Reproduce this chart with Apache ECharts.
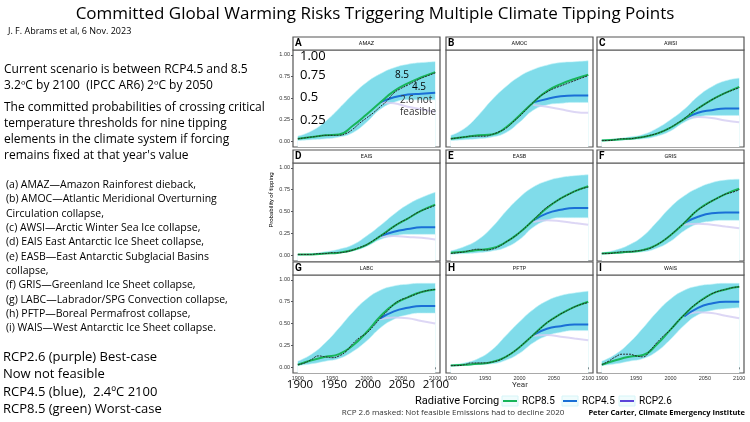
<!DOCTYPE html>
<html><head><meta charset="utf-8">
<script src="https://cdn.jsdelivr.net/npm/echarts@6/dist/echarts.min.js"></script>
<style>html,body{margin:0;padding:0;background:#fff}#c{width:750px;height:422px}</style>
</head><body><div id="c"></div>
<script>
const panelNames = ['AMAZ','AMOC','AWSI','EAIS','EASB','GRIS','LABC','PFTP','WAIS'];
const panelLetters = ['A','B','C','D','E','F','G','H','I'];
const years20 = [1900,1920,1940,1960,1980,2000,2020,2040,2060,2080,2100];
const yearsFut = [2020,2040,2060,2080,2100];
const yearsObs = [1900,1910,1920,1930,1940,1950,1960,1970,1980,1990,2000,2010,2020,2030,2040,2050,2060,2070,2080,2090,2100];
const yTicks = [0,0.25,0.5,0.75,1];
const xTicks = [1900,1950,2000,2050,2100];
const bigYearLabels = ['1900','1950','2000','2050','2100'];

const green = [
 [0.03,0.05,0.07,0.08,0.18,0.31,0.45,0.58,0.67,0.74,0.80],
 [0.03,0.05,0.07,0.08,0.16,0.30,0.45,0.58,0.66,0.72,0.77],
 [0.01,0.02,0.03,0.05,0.09,0.16,0.26,0.38,0.48,0.56,0.63],
 [0.01,0.01,0.02,0.03,0.06,0.12,0.22,0.33,0.42,0.51,0.58],
 [0.03,0.04,0.06,0.08,0.15,0.26,0.40,0.54,0.65,0.73,0.79],
 [0.02,0.03,0.04,0.06,0.12,0.23,0.37,0.52,0.62,0.70,0.76],
 [0.03,0.08,0.12,0.15,0.25,0.40,0.58,0.72,0.80,0.86,0.89],
 [0.02,0.03,0.04,0.06,0.12,0.23,0.37,0.51,0.61,0.69,0.75],
 [0.03,0.08,0.12,0.14,0.26,0.43,0.60,0.74,0.84,0.89,0.92]];
const blue = [
 [0.45,0.51,0.54,0.55,0.56],[0.45,0.49,0.52,0.53,0.53],[0.26,0.33,0.36,0.38,0.38],
 [0.22,0.27,0.30,0.32,0.32],[0.40,0.48,0.52,0.54,0.54],[0.37,0.44,0.48,0.49,0.49],
 [0.56,0.64,0.68,0.70,0.70],[0.37,0.44,0.47,0.49,0.49],[0.58,0.68,0.73,0.75,0.75]];
const purple = [
 [0.45,0.44,0.40,0.37,0.34],[0.42,0.40,0.37,0.34,0.33],[0.26,0.28,0.27,0.24,0.22],
 [0.21,0.22,0.21,0.20,0.18],[0.38,0.40,0.39,0.37,0.35],[0.35,0.36,0.35,0.33,0.31],
 [0.55,0.57,0.56,0.53,0.50],[0.36,0.37,0.35,0.33,0.31],[0.58,0.63,0.62,0.59,0.56]];
const bandHi = [
 [0.06,0.12,0.23,0.38,0.54,0.68,0.78,0.85,0.89,0.91,0.92],
 [0.07,0.15,0.30,0.48,0.63,0.75,0.83,0.88,0.91,0.92,0.93],
 [0.02,0.03,0.05,0.08,0.15,0.25,0.37,0.52,0.63,0.70,0.73],
 [0.01,0.02,0.04,0.07,0.12,0.22,0.34,0.47,0.58,0.66,0.72],
 [0.05,0.10,0.18,0.32,0.50,0.66,0.78,0.85,0.89,0.91,0.92],
 [0.03,0.06,0.12,0.22,0.38,0.55,0.68,0.77,0.83,0.86,0.87],
 [0.07,0.15,0.28,0.45,0.63,0.78,0.88,0.93,0.95,0.96,0.96],
 [0.03,0.05,0.10,0.20,0.36,0.52,0.66,0.76,0.82,0.85,0.87],
 [0.07,0.15,0.28,0.45,0.63,0.78,0.88,0.93,0.95,0.96,0.96]];
const bandLo = [
 [0.01,0.02,0.03,0.05,0.10,0.22,0.37,0.45,0.48,0.48,0.48],
 [0.01,0.02,0.03,0.05,0.10,0.22,0.36,0.42,0.44,0.45,0.45],
 [0.00,0.01,0.02,0.03,0.06,0.12,0.22,0.28,0.30,0.30,0.30],
 [0.00,0.01,0.02,0.03,0.05,0.10,0.18,0.22,0.24,0.24,0.24],
 [0.01,0.02,0.03,0.05,0.09,0.18,0.32,0.40,0.43,0.43,0.43],
 [0.01,0.02,0.03,0.04,0.08,0.16,0.28,0.36,0.39,0.40,0.40],
 [0.02,0.04,0.07,0.10,0.18,0.30,0.45,0.55,0.60,0.62,0.62],
 [0.01,0.02,0.03,0.04,0.08,0.16,0.28,0.36,0.40,0.42,0.42],
 [0.02,0.04,0.07,0.10,0.18,0.32,0.48,0.60,0.65,0.67,0.68]];
const black = [
 [0.03,0.04,0.05,0.06,0.07,0.07,0.07,0.09,0.14,0.21,0.27,0.33,0.40,0.47,0.56,0.61,0.65,0.69,0.73,0.76,0.79],
 [0.03,0.04,0.05,0.06,0.06,0.06,0.08,0.11,0.15,0.22,0.29,0.37,0.45,0.52,0.57,0.61,0.64,0.67,0.70,0.73,0.76],
 [0.01,0.01,0.02,0.03,0.03,0.04,0.05,0.07,0.09,0.12,0.16,0.21,0.26,0.33,0.38,0.43,0.48,0.52,0.56,0.59,0.62],
 [0.01,0.01,0.01,0.02,0.02,0.03,0.03,0.04,0.06,0.09,0.12,0.17,0.22,0.27,0.33,0.38,0.42,0.47,0.51,0.54,0.57],
 [0.02,0.03,0.04,0.06,0.07,0.06,0.07,0.10,0.15,0.20,0.26,0.33,0.40,0.48,0.55,0.60,0.65,0.69,0.73,0.76,0.78],
 [0.02,0.02,0.03,0.04,0.04,0.05,0.06,0.08,0.12,0.17,0.23,0.30,0.37,0.45,0.52,0.57,0.62,0.66,0.70,0.72,0.75],
 [0.03,0.05,0.09,0.13,0.12,0.11,0.13,0.18,0.27,0.34,0.39,0.47,0.56,0.64,0.72,0.77,0.80,0.83,0.86,0.88,0.89],
 [0.02,0.02,0.03,0.05,0.05,0.05,0.06,0.08,0.12,0.17,0.23,0.30,0.37,0.44,0.51,0.56,0.61,0.65,0.69,0.72,0.74],
 [0.03,0.07,0.12,0.15,0.15,0.13,0.12,0.19,0.28,0.36,0.43,0.52,0.60,0.68,0.74,0.79,0.84,0.87,0.89,0.91,0.92]];

const colLeft = [293,446,597], pw = 147;
const rowTop = [37,150,262], hdrH = 13, rowBottom = [147,261,373];
const grids=[],xAxes=[],yAxes=[],series=[],graphics=[];
for (let i=0;i<9;i++){
  const r=Math.floor(i/3), c=i%3;
  const top=rowTop[r]+hdrH, h=rowBottom[r]-top;
  grids.push({left:colLeft[c],top:top,width:pw,height:h,show:true,borderColor:'#555',borderWidth:1.2,backgroundColor:'#fff'});
  xAxes.push({gridIndex:i,type:'value',min:1893,max:2107,axisLine:{show:false},splitLine:{show:false},
    axisTick:{show:r===2,length:2,customValues:xTicks},
    axisLabel:{show:r===2,fontSize:5.5,color:'#333',margin:2,customValues:xTicks,formatter:v=>String(v)}});
  yAxes.push({gridIndex:i,type:'value',min:-0.065,max:1.055,axisLine:{show:false},splitLine:{show:false},
    axisTick:{show:c===0,length:2,customValues:yTicks},
    axisLabel:{show:c===0,fontSize:5.5,color:'#333',margin:3,customValues:yTicks,formatter:v=>v.toFixed(2)}});
  graphics.push({type:'rect',z:100,shape:{x:colLeft[c],y:rowTop[r],width:pw,height:hdrH},style:{fill:'#fff',stroke:'#555',lineWidth:1.2}});
  graphics.push({type:'text',z:101,x:colLeft[c]+2,y:rowTop[r]+1,style:{text:panelLetters[i],font:'bold 10px Roboto',fill:'#000'}});
  graphics.push({type:'text',z:101,x:colLeft[c]+pw/2,y:rowTop[r]+4,style:{text:panelNames[i],font:'5.5px Roboto',fill:'#111',textAlign:'center'}});
  series.push({type:'line',xAxisIndex:i,yAxisIndex:i,data:years20.map((y,k)=>[y,bandHi[i][k]]),smooth:true,symbol:'none',lineStyle:{width:0.6,color:'#c4f4f8'},areaStyle:{color:'#80dcea',opacity:1,origin:'start'},silent:true,z:1});
  series.push({type:'line',xAxisIndex:i,yAxisIndex:i,data:years20.map((y,k)=>[y,bandLo[i][k]]),smooth:true,symbol:'none',lineStyle:{width:0.6,color:'#c4f4f8'},areaStyle:{color:'#fff',opacity:1,origin:'start'},silent:true,z:1});
  series.push({name:'RCP2.6',type:'line',xAxisIndex:i,yAxisIndex:i,data:yearsFut.map((y,k)=>[y,purple[i][k]]),smooth:true,symbol:'none',lineStyle:{width:2,color:'#d4cdf2',opacity:0.8},z:2});
  series.push({name:'RCP4.5',type:'line',xAxisIndex:i,yAxisIndex:i,data:yearsFut.map((y,k)=>[y,blue[i][k]]),smooth:true,symbol:'none',lineStyle:{width:2,color:'#1a6fd6'},z:3});
  series.push({name:'RCP8.5',type:'line',xAxisIndex:i,yAxisIndex:i,data:years20.map((y,k)=>[y,green[i][k]]),smooth:true,symbol:'none',lineStyle:{width:2,color:'#18b55a'},z:4});
  series.push({type:'line',xAxisIndex:i,yAxisIndex:i,data:yearsObs.map((y,k)=>[y,black[i][k]]),smooth:true,symbol:'none',lineStyle:{width:1,color:'#222',type:[2,1]},z:5});
}
const T=(x,y,t,f,extra)=>({type:'text',z:110,x:x,y:y,style:Object.assign({text:t,font:f,fill:'#000'},extra||{})});
const F="'Open Sans', sans-serif";
graphics.push(
 T(375,6,'Committed Global Warming Risks Triggering Multiple Climate Tipping Points','17px '+F,{textAlign:'center'}),
 T(8,27,'J. F. Abrams et al, 6 Nov. 2023','9px '+F),
 T(4,62,'Current scenario is between RCP4.5 and 8.5\n3.2ºC by 2100  (IPCC AR6) 2ºC by 2050','12px '+F,{lineHeight:16}),
 T(4,100,"The committed probabilities of crossing critical\ntemperature thresholds for nine tipping\nelements in the climate system if forcing\nremains fixed at that year's value",'12px '+F,{lineHeight:16}),
 T(6,178,'(a) AMAZ—Amazon Rainforest dieback,\n(b) AMOC—Atlantic Meridional Overturning\nCirculation collapse,\n(c) AWSI—Arctic Winter Sea Ice collapse,\n(d) EAIS East Antarctic Ice Sheet collapse,\n(e) EASB—East Antarctic Subglacial Basins\ncollapse,\n(f) GRIS—Greenland Ice Sheet collapse,\n(g) LABC—Labrador/SPG Convection collapse,\n(h) PFTP—Boreal Permafrost collapse,\n(i) WAIS—West Antarctic Ice Sheet collapse.','10.5px '+F,{lineHeight:14.3}),
 T(3,349,'RCP2.6 (purple) Best-case\nNow not feasible','13px '+F,{lineHeight:17}),
 T(3,384,'RCP4.5 (blue),  2.4ºC 2100\nRCP8.5 (green) Worst-case','13px '+F,{lineHeight:17}),
 T(300,50,'1.00','13px '+F),T(300,69,'0.75','13px '+F),T(300,91,'0.5','13px '+F),T(300,114,'0.25','13px '+F),
 T(395,70,'8.5','10px '+F),T(412,82,'4.5','10px '+F),T(400,94,'2.6 not\nfeasible','10px '+F,{lineHeight:12,fill:'#333'}),
 Object.assign(T(271,200,'Probability of tipping','6px Roboto',{textAlign:'center',textVerticalAlign:'middle'}),{rotation:Math.PI/2}),
 T(520,381,'Year','8px Roboto',{textAlign:'center',fill:'#333'}),
 T(415,396,'Radiative Forcing','11px Roboto'),
 T(453,409,'RCP 2.6 masked: Not feasible Emissions had to decline 2020','8px '+F,{textAlign:'center',fill:'#333'}),
 T(745,409,'Peter Carter, Climate Emergency Institute','bold 7.5px '+F,{textAlign:'right'})
);
bigYearLabels.forEach((t,k)=>graphics.push(T(300+k*34,379,t,'11.5px '+F,{textAlign:'center'})));
const legendItems=[['RCP8.5','#18b55a',502],['RCP4.5','#1a6fd6',562],['RCP2.6','#5b45d9',619]];
legendItems.forEach(([n,col,x])=>{
  graphics.push({type:'rect',z:110,shape:{x:x,y:396,width:16,height:10},style:{fill:'#f0fcfd',stroke:'#d6f5f8'}});
  graphics.push({type:'line',z:111,shape:{x1:x+1,y1:401,x2:x+15,y2:401},style:{stroke:col,lineWidth:2}});
  graphics.push(T(x+20,396,n,'10px Roboto'));
});
const chart=echarts.init(document.getElementById('c'),null,{renderer:'canvas'});
chart.setOption({animation:false,grid:grids,xAxis:xAxes,yAxis:yAxes,series:series,graphic:graphics});
</script></body></html>
